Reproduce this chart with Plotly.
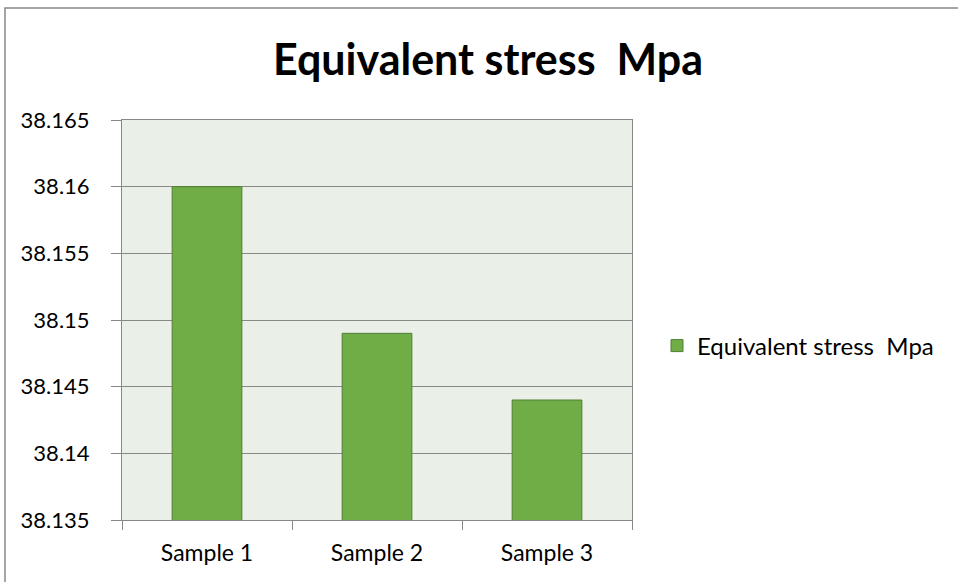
import plotly.graph_objects as go

categories = ["Sample 1", "Sample 2", "Sample 3"]
values = [38.16, 38.149, 38.144]
series_name = "Equivalent stress\u00a0 Mpa"
title_text = "Equivalent stress\u00a0 Mpa"
y_ticks = [38.135, 38.14, 38.145, 38.15, 38.155, 38.16, 38.165]
y_tick_labels = ["38.135", "38.14", "38.145", "38.15", "38.155", "38.16", "38.165"]

W, H = 958, 582
L, R, T, B = 122, 632, 120, 520

fig = go.Figure()
fig.add_trace(go.Bar(
    x=categories, y=values, name=series_name,
    marker=dict(color="#70AD47", line=dict(color="#507E32", width=1)),
    showlegend=True,
))

def px_x(p):
    return (p - L) / (R - L)

def px_y(p):
    return (B - p) / (B - T)

fig.update_layout(
    width=W, height=H,
    margin=dict(l=L, r=W - R, t=T, b=H - B, pad=0),
    paper_bgcolor="white",
    plot_bgcolor="#EAEFE8",
    font=dict(family="Lato, Open Sans, sans-serif", color="#000000", size=22),
    title=dict(text="<b>" + title_text + "</b>", x=px_x(488), xref="paper", xanchor="center",
               y=1 - 60 / H, yanchor="middle", font=dict(size=43, family="Lato")),
    bargap=0.59,
    showlegend=True,
    legend=dict(x=px_x(657), y=px_y(346), xanchor="left", yanchor="middle",
                font=dict(size=24), bgcolor="rgba(0,0,0,0)", itemwidth=30),
    shapes=[dict(type="rect", xref="paper", yref="paper",
                 x0=px_x(5), x1=px_x(975), y0=px_y(600), y1=px_y(8),
                 line=dict(color="#888888", width=1.5), fillcolor="rgba(0,0,0,0)", layer="below")],
)

fig.update_xaxes(
    type="category", tickson="boundaries", ticks="outside", ticklen=9,
    tickcolor="#888888", showline=True, linecolor="#888888", mirror=True,
    showgrid=False, tickfont=dict(size=23), ticklabelstandoff=12,
)
fig.update_yaxes(
    range=[38.135, 38.165], tickvals=y_ticks, ticktext=y_tick_labels,
    ticks="outside", ticklen=10, tickcolor="#888888",
    showline=True, linecolor="#888888", mirror=True,
    showgrid=True, gridcolor="#888888", gridwidth=1, zeroline=False,
    tickfont=dict(size=22), ticklabelstandoff=17,
)

fig.write_html("out.html", config={"displayModeBar": False},
               post_script="document.body.style.margin='0';")
